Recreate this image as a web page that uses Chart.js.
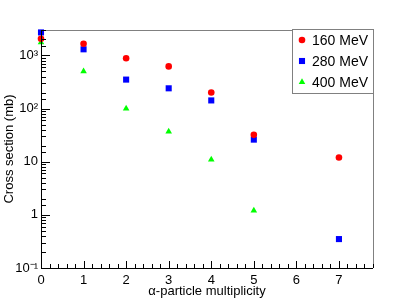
<!DOCTYPE html>
<html>
<head>
<meta charset="utf-8">
<script src="https://cdn.jsdelivr.net/npm/chart.js@4/dist/chart.umd.min.js"></script>
<style>
  html, body { margin: 0; padding: 0; background: #fff; }
  #wrap { width: 415px; height: 299px; }
</style>
</head>
<body>
<div id="wrap"><canvas id="chart" width="415" height="299"></canvas></div>
<script>
// alpha multiplicity and cross sections (mb)
const mult160 = [0, 1, 2, 3, 4, 5, 7];
const xs160 = [2050, 1650, 880, 620, 200, 32, 12];
const mult280 = [0, 1, 2, 3, 4, 5, 7];
const xs280 = [2700, 1300, 350, 240, 142, 26, 0.35];
const mult400 = [0, 1, 2, 3, 4, 5];
const xs400 = [1750, 500, 100, 37, 11, 1.2];

const seriesLabels = ['160 MeV', '280 MeV', '400 MeV'];
const decadeLabels = { '-1': '10\u207B\u00B9', '0': '1', '1': '10', '2': '10\u00B2', '3': '10\u00B3' };

const FONT = 'Liberation Sans, Arial, Helvetica, sans-serif';

function toPoints(xs, ys) {
    return xs.map((x, i) => ({ x: x, y: ys[i] }));
}

function isDecade(v) {
    const l = Math.log10(v);
    return Math.abs(l - Math.round(l)) < 1e-6;
}

// ROOT-like frame: inward ticks, black axes, grey top/right
const framePlugin = {
    id: 'frame',
    afterDraw(chart) {
        const ctx = chart.ctx;
        const a = chart.chartArea;
        const xs = chart.scales.x;
        const ys = chart.scales.y;
        ctx.save();
        ctx.lineWidth = 1;
        ctx.strokeStyle = '#808080';
        ctx.beginPath();
        ctx.moveTo(a.left, a.top + 0.5);
        ctx.lineTo(a.right + 0.5, a.top + 0.5);
        ctx.lineTo(a.right + 0.5, a.bottom);
        ctx.stroke();

        ctx.strokeStyle = '#000';
        ctx.beginPath();
        ctx.moveTo(a.left + 0.5, a.top);
        ctx.lineTo(a.left + 0.5, a.bottom + 0.5);
        ctx.lineTo(a.right, a.bottom + 0.5);
        ctx.stroke();

        ctx.beginPath();
        xs.ticks.forEach(t => {
            const px = Math.round(xs.getPixelForValue(t.value)) + 0.5;
            const major = Math.abs(t.value - Math.round(t.value)) < 1e-6;
            ctx.moveTo(px, a.bottom);
            ctx.lineTo(px, a.bottom - (major ? 7 : 4));
        });
        ys.ticks.forEach(t => {
            if (t.value < ys.min || t.value > ys.max) return;
            const py = Math.round(ys.getPixelForValue(t.value)) + 0.5;
            ctx.moveTo(a.left, py);
            ctx.lineTo(a.left + (isDecade(t.value) ? 9 : 5), py);
        });
        ctx.stroke();
        ctx.restore();
    }
};

// legend box in the top-right corner of the frame
const legendPlugin = {
    id: 'rootLegend',
    afterDraw(chart) {
        const ctx = chart.ctx;
        const a = chart.chartArea;
        const w = 81, h = 64;
        const left = a.right - w, top = a.top - 1;
        ctx.save();
        ctx.fillStyle = '#fff';
        ctx.fillRect(left, top, w, h);
        ctx.strokeStyle = '#808080';
        ctx.lineWidth = 1;
        ctx.strokeRect(left + 0.5, top + 0.5, w, h);
        ctx.font = '14px ' + FONT;
        ctx.textBaseline = 'middle';
        ctx.fillStyle = '#000';
        chart.data.datasets.forEach((ds, i) => {
            const cy = top + 11 + i * 21;
            ctx.fillStyle = ds.backgroundColor;
            Chart.helpers.drawPoint(ctx, {
                pointStyle: ds.pointStyle,
                radius: ds.pointRadius,
                borderWidth: 0
            }, left + 10, cy);
            ctx.fillStyle = '#000';
            ctx.fillText(ds.label, left + 20, cy + 1);
        });
        ctx.restore();
    }
};

const ctx = document.getElementById('chart').getContext('2d');
new Chart(ctx, {
    type: 'scatter',
    data: {
        datasets: [
            {
                label: seriesLabels[0],
                data: toPoints(mult160, xs160),
                pointStyle: 'circle',
                pointRadius: 3.3,
                backgroundColor: '#ff0000',
                borderWidth: 0,
                clip: false
            },
            {
                label: seriesLabels[1],
                data: toPoints(mult280, xs280),
                pointStyle: 'rect',
                pointRadius: 4.3,
                backgroundColor: '#0000ff',
                borderWidth: 0,
                clip: false
            },
            {
                label: seriesLabels[2],
                data: toPoints(mult400, xs400),
                pointStyle: 'triangle',
                pointRadius: 3.8,
                backgroundColor: '#00ff00',
                borderWidth: 0,
                clip: false
            }
        ]
    },
    options: {
        responsive: false,
        animation: false,
        events: [],
        layout: { padding: { top: 30, right: 42, left: 0, bottom: 0 } },
        plugins: { legend: { display: false }, tooltip: { enabled: false } },
        scales: {
            x: {
                type: 'linear',
                min: 0,
                max: 7.8,
                grid: { display: false, drawTicks: false },
                border: { display: false },
                ticks: {
                    stepSize: 0.2,
                    autoSkip: false,
                    maxRotation: 0,
                    maxTicksLimit: 100,
                    padding: 5,
                    color: '#000',
                    font: { family: FONT, size: 13 },
                    callback: v => Math.abs(v - Math.round(v)) < 1e-6 ? String(Math.round(v)) : ''
                },
                title: {
                    display: true,
                    text: '\u03B1-particle multiplicity',
                    color: '#000',
                    font: { family: FONT, size: 13 },
                    padding: { top: 0, bottom: 0 }
                },
                afterFit: s => { s.height = 31; }
            },
            y: {
                type: 'logarithmic',
                min: 0.1,
                max: 3000,
                grid: { display: false, drawTicks: false },
                border: { display: false },
                ticks: {
                    autoSkip: false,
                    padding: 3,
                    color: '#000',
                    font: { family: FONT, size: 13 },
                    callback: v => isDecade(v) ? decadeLabels[String(Math.round(Math.log10(v)))] : ''
                },
                title: {
                    display: true,
                    text: 'Cross section (mb)',
                    color: '#000',
                    font: { family: FONT, size: 13 },
                    padding: { top: 2, bottom: 0 }
                },
                afterFit: s => { s.width = 41; }
            }
        }
    },
    plugins: [framePlugin, legendPlugin]
});
</script>
</body>
</html>
